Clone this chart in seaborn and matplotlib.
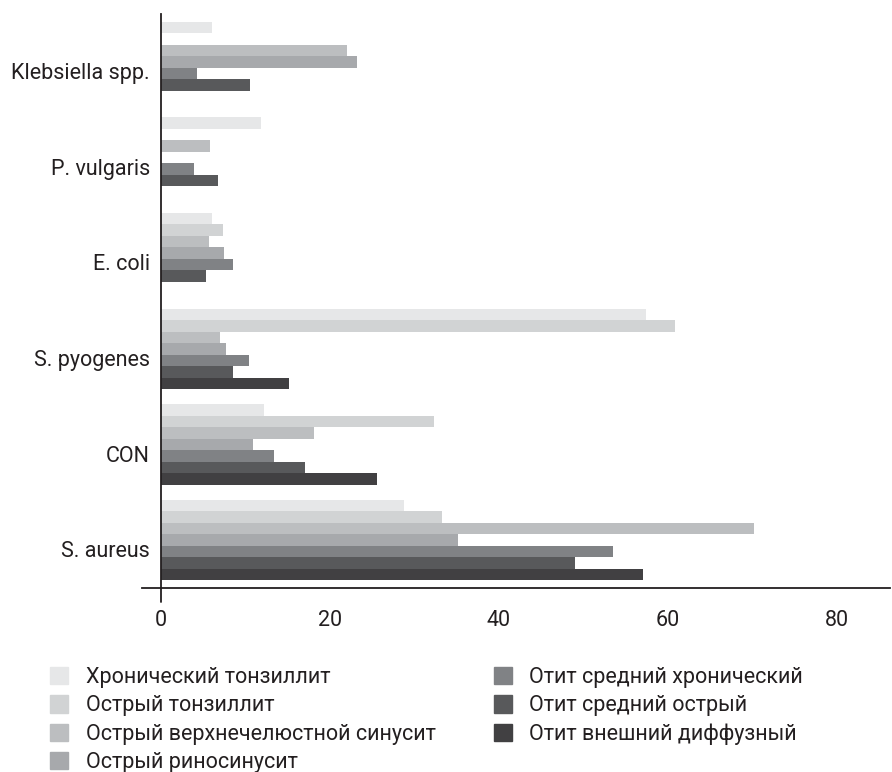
import numpy as np
import pandas as pd
import seaborn as sns
import matplotlib.pyplot as plt
import matplotlib.transforms as mtransforms

# data (missing bars = NaN)
organisms = ['Klebsiella spp.', 'P. vulgaris', 'E. coli', 'S. pyogenes', 'CON', 'S. aureus']
diseases = ['Хронический тонзиллит', 'Острый тонзиллит',
            'Острый верхнечелюстной синусит', 'Острый риносинусит',
            'Отит средний хронический', 'Отит средний острый',
            'Отит внешний диффузный']
chronic_tonsillitis = [6.0, 11.8, 6.0, 57.4, 12.2, 28.7]
acute_tonsillitis = [np.nan, np.nan, 7.3, 60.8, 32.3, 33.2]
maxillary_sinusitis = [22.0, 5.8, 5.7, 7.0, 18.1, 70.2]
rhinosinusitis = [23.2, np.nan, 7.4, 7.7, 10.9, 35.1]
otitis_media_chronic = [4.3, 3.9, 8.5, 10.4, 13.4, 53.5]
otitis_media_acute = [10.5, 6.7, 5.3, 8.5, 17.1, 49.0]
otitis_externa = [np.nan, np.nan, np.nan, 15.2, 25.6, 57.0]
colors = ['#e6e7e8', '#d1d3d4', '#bcbec0', '#a7a9ac', '#808285', '#58595b', '#414042']

series = [chronic_tonsillitis, acute_tonsillitis, maxillary_sinusitis, rhinosinusitis,
          otitis_media_chronic, otitis_media_acute, otitis_externa]
rows = []
for d, vals in zip(diseases, series):
    for org, v in zip(organisms, vals):
        rows.append({'organism': org, 'disease': d, 'value': v})
df = pd.DataFrame(rows).dropna()

sns.set_style('white')
plt.rcParams['font.family'] = ['Roboto', 'DejaVu Sans']

fig = plt.figure(figsize=(8.92, 7.72), dpi=100)
ax = fig.add_axes([161 / 892, 1 - 588 / 772, 729 / 892, 574 / 772])

sns.barplot(data=df, x='value', y='organism', hue='disease', order=organisms,
            hue_order=diseases, palette=colors, saturation=1, width=0.84,
            errorbar=None, orient='h', legend=False, linewidth=0, ax=ax)

ax.set_xlim(0, 729 / 8.45)
ax.set_ylim(5.5, -0.5)
ax.set_xticks([0, 20, 40, 60, 80])
ax.set_xlabel('')
ax.set_ylabel('')
ax.tick_params(axis='both', length=0, labelsize=15.5, colors='#231f20')
ax.tick_params(axis='x', pad=16)
ax.tick_params(axis='y', pad=8)

# shift category labels a little down, like the reference
off = mtransforms.ScaledTranslation(0, -0.09, fig.dpi_scale_trans)
for lab in ax.get_yticklabels():
    lab.set_transform(lab.get_transform() + off)

sns.despine(ax=ax)
for s in ['left', 'bottom']:
    ax.spines[s].set_color('#231f20')
    ax.spines[s].set_linewidth(1.3)
    ax.spines[s].set_clip_on(False)
# axes cross each other slightly at the origin
ax.spines['bottom'].set_bounds(-19 / 8.45, 729 / 8.45)
ax.axvline(0, ymin=-14 / 574, ymax=0, color='#231f20', lw=1.3, clip_on=False)

handles = [plt.Rectangle((0, 0), 1, 1, color=c) for c in colors]
fig.legend(handles, diseases, loc='upper left', bbox_to_anchor=(50 / 892, 1 - 667 / 772),
           ncol=2, frameon=False, fontsize=15.5, handlelength=0.85, handleheight=0.85,
           handletextpad=0.8, labelspacing=0.34, columnspacing=2.7, borderpad=0,
           borderaxespad=0, labelcolor='#231f20')

fig.savefig('out.png', dpi=100)
